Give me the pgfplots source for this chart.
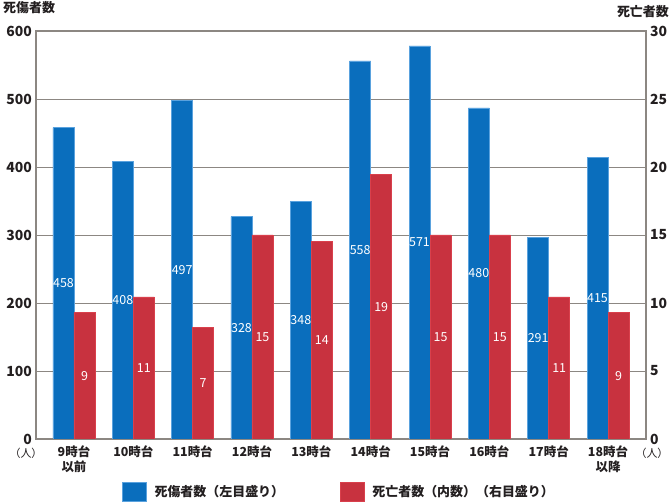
\documentclass[border=0pt]{standalone}
\usepackage{pgfplots}
\pgfplotsset{compat=1.18}
\usepackage{pgfplotstable}
\usepackage{fontspec}
\setmainfont{Noto Sans CJK JP}
\definecolor{cblue}{HTML}{0A6EBD}
\definecolor{cblueedge}{HTML}{5AA2DE}
\definecolor{cred}{HTML}{C8323F}
\definecolor{crededge}{HTML}{D9404C}
\definecolor{gline}{HTML}{8C8782}
\definecolor{txt}{HTML}{231F20}

\pgfplotstableread{
x cas caslab dead deadlab
0 458 458 9.3 9
1 408 408 10.45 11
2 498 497 8.2 7
3 327 328 15 15
4 349 348 14.55 14
5 556 558 19.47 19
6 578 571 15 15
7 487 480 15 15
8 297 291 10.45 11
9 414 415 9.3 9
}\datatable

\pgfplotsset{
  base/.style={
    at={(36bp,63bp)}, anchor=south west,
    scale only axis, width=610bp, height=408bp,
    xmin=-0.64, xmax=9.64, ymin=0,
    major tick length=0pt,
    /pgf/number format/assume math mode=true,
    ybar, bar width=21bp,
  },
  sqlegend/.style={legend image code/.code={\draw[##1] (0bp,-9.5bp) rectangle (24bp,9.5bp);}},
}

\begin{document}
\begin{tikzpicture}
\path[use as bounding box] (0bp,0bp) rectangle (672bp,502bp);
\begin{axis}[base,
  ymax=600,
  ytick={0,100,...,600},
  ymajorgrids,
  grid style={gline, line width=0.9bp},
  axis line style={gline, line width=1.2bp},
  ytick pos=left,
  xtick={0,...,9},
  xticklabels={{9時台\\以前},10時台,11時台,12時台,13時台,14時台,15時台,16時台,17時台,{18時台\\以降}},
  xticklabel style={inner sep=0pt, yshift=-7bp, align=center, text=txt, font=\bfseries\fontsize{12.5}{15}\selectfont},
  yticklabel style={inner sep=0pt, xshift=-4bp, text=txt, font=\bfseries\fontsize{14}{14}\selectfont},
]
\addplot[fill=cblue, draw=cblueedge, line width=0.6bp, bar shift=-10.5bp,
  point meta=explicit symbolic,
  visualization depends on={rawy \as \rawy},
  nodes near coords,
  every node near coord/.append style={anchor=center, text=white, font=\fontsize{12.5}{12.5}\selectfont, yshift={-0.34*\rawy*1bp}},
] table[x=x, y=cas, meta=caslab] {\datatable};
\end{axis}
\begin{axis}[base,
  ymax=30,
  ytick={0,5,...,30},
  hide x axis,
  axis y line*=right,
  axis line style={gline, line width=1.2bp},
  yticklabel style={inner sep=0pt, xshift=4bp, text=txt, font=\bfseries\fontsize{14}{14}\selectfont},
  legend style={at={(0.5,0)}, anchor=north, yshift=-41bp, xshift=-2bp, draw=none, fill=none,
    font=\bfseries\fontsize{13}{13}\selectfont, text=txt,
    /tikz/every even column/.append style={column sep=54bp},
    /tikz/every odd column/.append style={column sep=6bp}},
  legend columns=2,
]
\addlegendimage{fill=cblue, draw=cblueedge, sqlegend}
\addlegendentry{死傷者数（左目盛り）}
\addlegendimage{fill=cred, draw=crededge, sqlegend}
\addlegendentry{死亡者数（内数）（右目盛り）}
\addplot[fill=cred, draw=crededge, line width=0.6bp, bar shift=10.5bp, forget plot,
  point meta=explicit symbolic,
  visualization depends on={rawy \as \rawy},
  nodes near coords,
  every node near coord/.append style={anchor=center, text=white, font=\fontsize{12.5}{12.5}\selectfont, yshift={-6.8*\rawy*1bp}},
] table[x=x, y=dead, meta=deadlab] {\datatable};
\end{axis}
\node[anchor=west, inner sep=0pt, text=txt, font=\bfseries\fontsize{13}{13}\selectfont] at (3bp,494bp) {死傷者数};
\node[anchor=east, inner sep=0pt, text=txt, font=\bfseries\fontsize{13}{13}\selectfont] at (669bp,490bp) {死亡者数};
\node[inner sep=0pt, text=txt, font=\fontsize{11}{11}\selectfont] at (26bp,49bp) {（人）};
\node[inner sep=0pt, text=txt, font=\fontsize{11}{11}\selectfont] at (652bp,49bp) {（人）};
\end{tikzpicture}
\end{document}
